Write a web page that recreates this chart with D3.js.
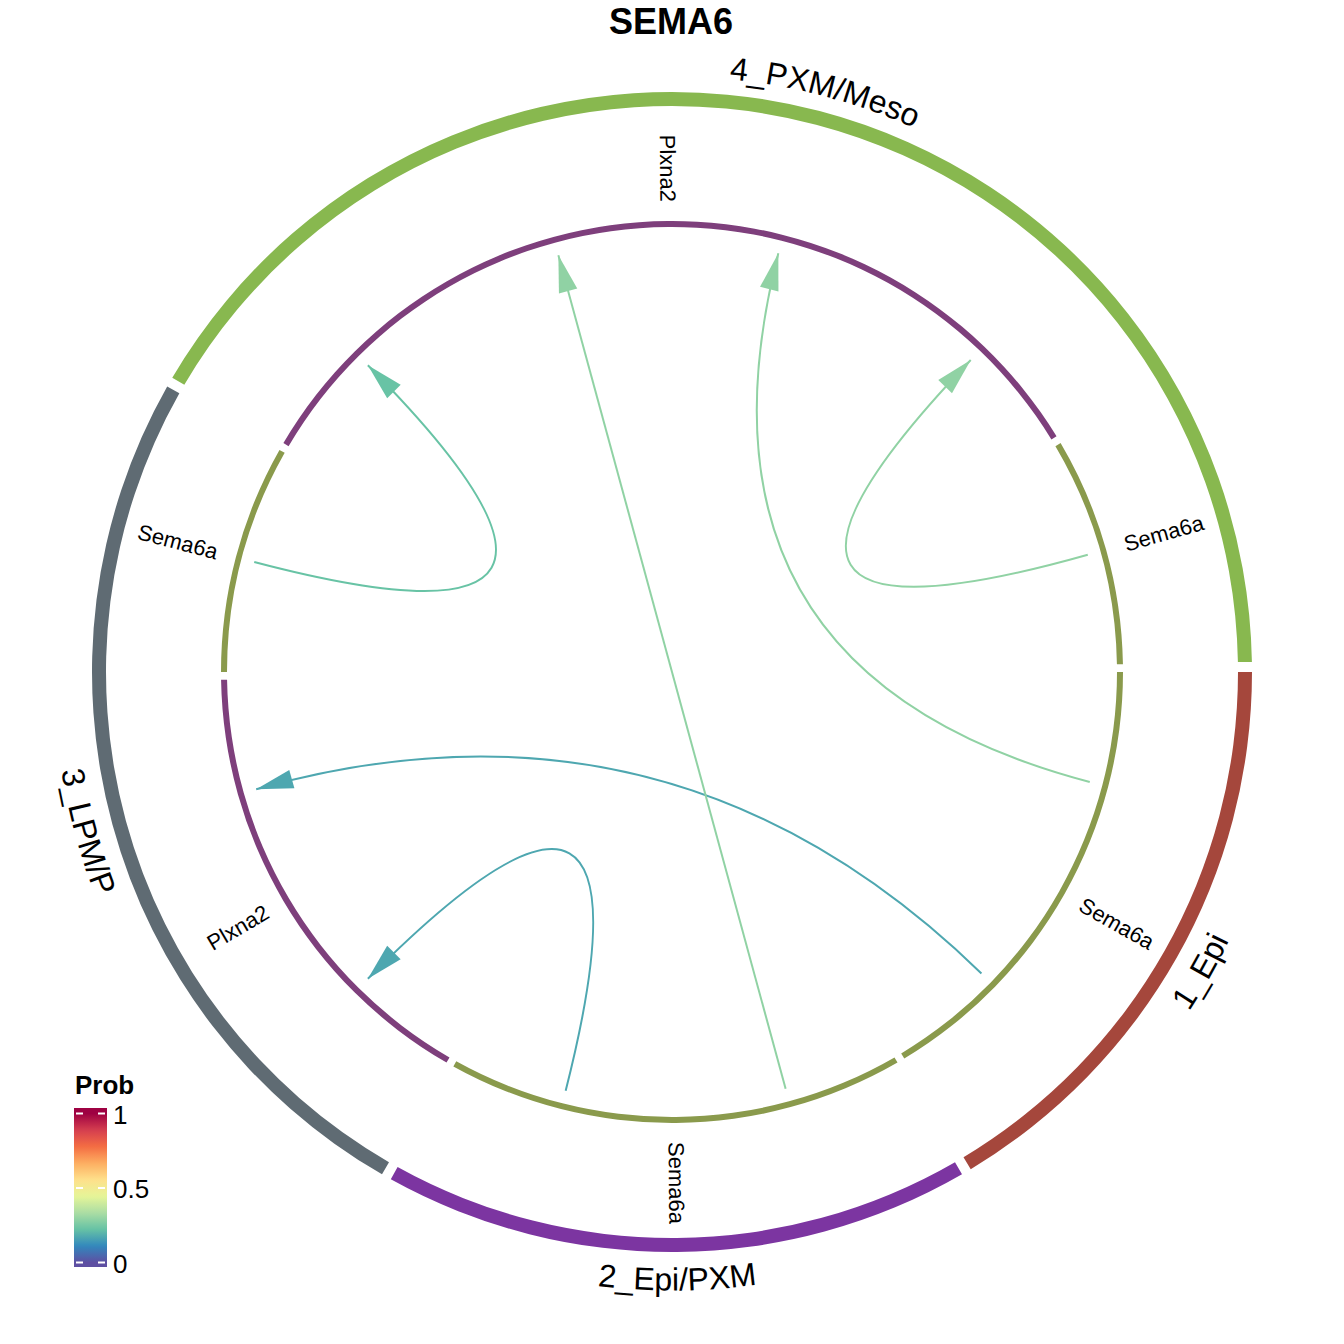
<!DOCTYPE html>
<html>
<head>
<meta charset="utf-8">
<script src="https://cdn.jsdelivr.net/npm/d3@7"></script>
<style>
  html, body { margin: 0; padding: 0; background: #ffffff; }
  svg { display: block; font-family: "Liberation Sans", Arial, Helvetica, sans-serif; }
</style>
</head>
<body>
<svg id="chart" width="1344" height="1344"></svg>
<script>
// ---------------- data ----------------
const title = "SEMA6";
const groups = ["1_Epi", "2_Epi/PXM", "3_LPM/P", "4_PXM/Meso"];
const groupColors = ["#A5473C", "#7C35A1", "#5F6B73", "#88B84F"];
const ligand = "Sema6a";
const receptor = "Plxna2";
const geneColors = { "Sema6a": "#8A9A4C", "Plxna2": "#7E3F7C" };

const linkSource = ["1_Epi", "1_Epi", "2_Epi/PXM", "2_Epi/PXM", "3_LPM/P", "4_PXM/Meso"];
const linkTarget = ["4_PXM/Meso", "3_LPM/P", "4_PXM/Meso", "3_LPM/P", "4_PXM/Meso", "4_PXM/Meso"];
const linkProb   = [0.29, 0.17, 0.29, 0.17, 0.225, 0.29];

const legendTitle = "Prob";
const legendTicks = [0, 0.5, 1];
const paletteColors = ["#5E4FA2", "#3288BD", "#66C2A5", "#ABDDA4", "#E6F598",
                       "#FEE08B", "#FDAE61", "#F46D43", "#D53E4F", "#9E0142"];

// ---------------- layout ----------------
const cx = 672, cy = 672;
const startDeg = 90, gapDeg = 1;
const rOuterIn = 566, rOuterOut = 580;
const rInnerIn = 445, rInnerOut = 451;
const rLink = 432;
const rGeneLabel = 470;
const rGroupLabel = 607;

const svg = d3.select("#chart");
svg.append("rect").attr("width", 1344).attr("height", 1344).attr("fill", "#fff");

const color = d3.scaleLinear()
  .domain(paletteColors.map((c, i) => i / (paletteColors.length - 1)))
  .range(paletteColors)
  .interpolate(d3.interpolateRgb);

const rad = d => d * Math.PI / 180;
const pt = (deg, r) => [cx + r * Math.sin(rad(deg)), cy - r * Math.cos(rad(deg))];

const links = linkSource.map((s, i) => ({ s, t: linkTarget[i], p: linkProb[i] }));

// sub-sectors: receptor first, ligand second within each group
const sectors = [];
groups.forEach((g, gi) => {
  const nIn = links.filter(l => l.t === g).length;
  const nOut = links.filter(l => l.s === g).length;
  if (nIn) sectors.push({ group: g, gi, gene: receptor, role: "in", n: nIn });
  if (nOut) sectors.push({ group: g, gi, gene: ligand, role: "out", n: nOut });
});
const totalSlots = d3.sum(sectors, d => d.n);
const slotDeg = (360 - gapDeg * sectors.length) / totalSlots;
let a = startDeg;
sectors.forEach(s => {
  s.start = a; s.end = a + s.n * slotDeg; s.mid = (s.start + s.end) / 2;
  a = s.end + gapDeg;
});
const sectorOf = (g, role) => sectors.find(s => s.group === g && s.role === role);

// assign link end slots
links.forEach(l => { l.sSec = sectorOf(l.s, "out"); l.tSec = sectorOf(l.t, "in"); });
sectors.forEach(sec => {
  const ends = links.filter(l => (sec.role === "out" ? l.sSec : l.tSec) === sec)
    .map(l => ({ l, other: sec.role === "out" ? l.tSec : l.sSec }));
  ends.sort((x, y) => ((y.other.start - sec.start + 360) % 360) - ((x.other.start - sec.start + 360) % 360));
  ends.forEach((e, k) => {
    const ang = sec.start + (k + 0.5) * slotDeg;
    if (sec.role === "out") e.l.sAng = ang; else e.l.tAng = ang;
  });
});

// ---------------- outer group ring ----------------
const arc = d3.arc();
groups.forEach((g, gi) => {
  const secs = sectors.filter(s => s.group === g);
  const st = d3.min(secs, s => s.start), en = d3.max(secs, s => s.end);
  svg.append("path")
    .attr("transform", `translate(${cx},${cy})`)
    .attr("d", arc({ innerRadius: rOuterIn, outerRadius: rOuterOut, startAngle: rad(st), endAngle: rad(en) }))
    .attr("fill", groupColors[gi]);

  // curved label
  const mid = (st + en) / 2;
  const m = ((mid % 360) + 360) % 360;
  const flip = m > 90 && m < 270;
  const rb = flip ? rGroupLabel + 11.5 : rGroupLabel - 11.5;
  const a1 = mid - 80, a2 = mid + 80;
  let d;
  if (!flip) {
    const p1 = pt(a1, rb), p2 = pt(a2, rb);
    d = `M${p1[0]},${p1[1]} A${rb},${rb} 0 0 1 ${p2[0]},${p2[1]}`;
  } else {
    const p1 = pt(a2, rb), p2 = pt(a1, rb);
    d = `M${p1[0]},${p1[1]} A${rb},${rb} 0 0 0 ${p2[0]},${p2[1]}`;
  }
  const id = "glab" + gi;
  svg.append("path").attr("id", id).attr("d", d).attr("fill", "none").attr("stroke", "none");
  svg.append("text")
    .attr("font-size", 32).attr("fill", "#000")
    .append("textPath")
    .attr("href", "#" + id)
    .attr("startOffset", "50%")
    .attr("text-anchor", "middle")
    .text(g);
});

// ---------------- inner gene ring ----------------
sectors.forEach(s => {
  svg.append("path")
    .attr("transform", `translate(${cx},${cy})`)
    .attr("d", arc({ innerRadius: rInnerIn, outerRadius: rInnerOut, startAngle: rad(s.start), endAngle: rad(s.end) }))
    .attr("fill", geneColors[s.gene]);

  const m = ((s.mid % 360) + 360) % 360;
  const right = m > 0 && m <= 180;
  const rot = right ? m - 90 : m - 270;
  const p = pt(m, rGeneLabel);
  svg.append("text")
    .attr("transform", `translate(${p[0]},${p[1]}) rotate(${rot})`)
    .attr("text-anchor", right ? "start" : "end")
    .attr("dominant-baseline", "central")
    .attr("font-size", 22)
    .attr("fill", "#000")
    .text(s.gene);
});

// ---------------- links ----------------
const arrowLen = 37, arrowHalf = 9.5;
links.forEach(l => {
  const p0 = pt(l.sAng, rLink), p2 = pt(l.tAng, rLink);
  const c = color(l.p);
  svg.append("path")
    .attr("d", `M${p0[0]},${p0[1]} Q${cx},${cy} ${p2[0]},${p2[1]}`)
    .attr("fill", "none")
    .attr("stroke", c)
    .attr("stroke-width", 2);
  // arrowhead pointing radially outward at the target
  const ux = Math.sin(rad(l.tAng)), uy = -Math.cos(rad(l.tAng));
  const bx = p2[0] - ux * arrowLen, by = p2[1] - uy * arrowLen;
  const nx = -uy, ny = ux;
  svg.append("path")
    .attr("d", `M${p2[0]},${p2[1]} L${bx + nx * arrowHalf},${by + ny * arrowHalf} L${bx - nx * arrowHalf},${by - ny * arrowHalf} Z`)
    .attr("fill", c);
});

// ---------------- title ----------------
svg.append("text")
  .attr("x", 671).attr("y", 34)
  .attr("text-anchor", "middle")
  .attr("font-size", 36).attr("font-weight", "bold")
  .text(title);

// ---------------- legend ----------------
const ly = d3.scaleLinear().domain([0, 1]).range([1262.5, 1113.5]);
const barX = 74, barW = 33;
const defs = svg.append("defs");
const grad = defs.append("linearGradient").attr("id", "probGrad")
  .attr("gradientUnits", "userSpaceOnUse")
  .attr("x1", 0).attr("x2", 0).attr("y1", ly(0)).attr("y2", ly(1));
d3.range(0, 1.0001, 0.02).forEach(v => {
  grad.append("stop").attr("offset", v).attr("stop-color", color(v));
});
svg.append("rect")
  .attr("x", barX).attr("y", ly(1) - 5.5)
  .attr("width", barW).attr("height", ly(0) - ly(1) + 10)
  .attr("fill", "url(#probGrad)");
legendTicks.forEach(v => {
  [[barX + 2, barX + 9], [barX + barW - 9, barX + barW - 2]].forEach(([x1, x2]) => {
    svg.append("line").attr("x1", x1).attr("x2", x2)
      .attr("y1", ly(v)).attr("y2", ly(v))
      .attr("stroke", "#fff").attr("stroke-width", 2);
  });
  svg.append("text")
    .attr("x", barX + barW + 6).attr("y", ly(v) + 1)
    .attr("dominant-baseline", "central")
    .attr("font-size", 26)
    .text(v);
});
svg.append("text")
  .attr("x", 75).attr("y", 1094)
  .attr("font-size", 26).attr("font-weight", "bold")
  .text(legendTitle);
</script>
</body>
</html>
